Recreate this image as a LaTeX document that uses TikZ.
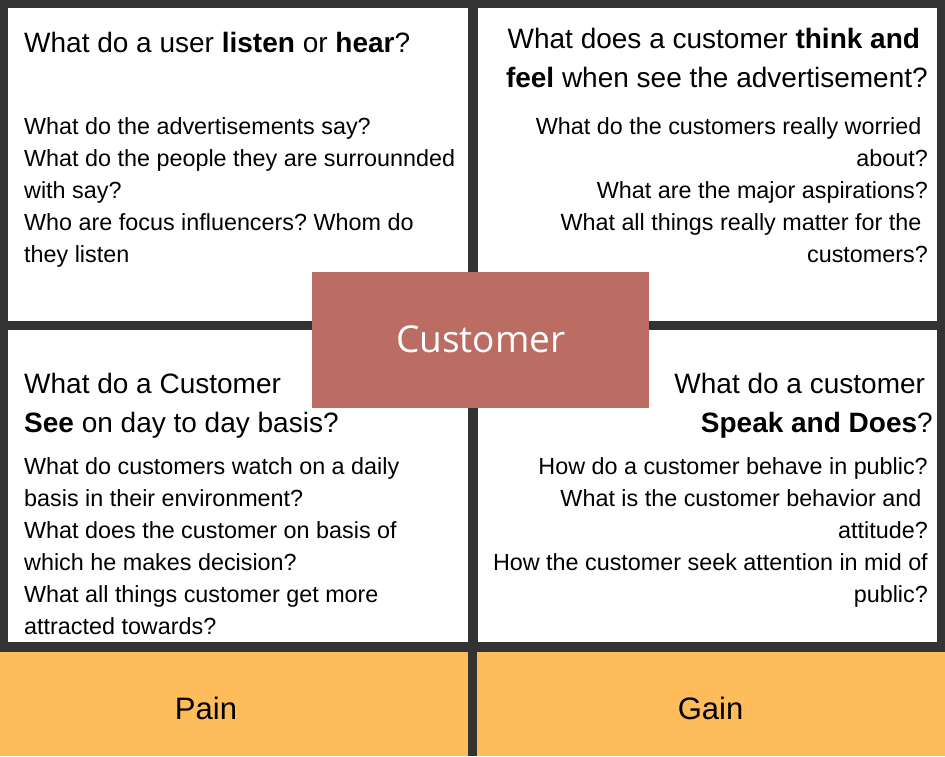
\documentclass[tikz,border=0pt]{standalone}
\usepackage{fontspec}
\setmainfont{Liberation Sans}
\newfontfamily\custfont{Open Sans}
\definecolor{framecol}{HTML}{333333}
\definecolor{custcol}{HTML}{BC6D63}
\definecolor{pgcol}{HTML}{FFBC5A}
\frenchspacing
\begin{document}
\begin{tikzpicture}[x=1pt,y=-1pt,
  panelbox/.style={fill=white,draw=none,inner sep=0pt,anchor=north west},
  orangebox/.style={fill=pgcol,draw=none,inner sep=0pt,anchor=north west},
  headtxt/.style={font=\fontsize{28}{39}\selectfont,inner sep=0pt},
  bodytxt/.style={font=\fontsize{23.35}{32}\selectfont,inner sep=0pt},
  pgtxt/.style={font=\fontsize{31}{36}\selectfont,inner sep=0pt},
]
\fill[framecol] (0,0) rectangle (945,756);
\useasboundingbox (0,0) rectangle (945,756);
% panels
\node[panelbox,minimum width=460,minimum height=313] (tl) at (8,8) {};
\node[panelbox,minimum width=459,minimum height=313] (tr) at (478,8) {};
\node[panelbox,minimum width=460,minimum height=312] (bl) at (8,330) {};
\node[panelbox,minimum width=459,minimum height=312] (br) at (478,330) {};
\node[orangebox,minimum width=468,minimum height=104] (pain) at (0,652) {};
\node[orangebox,minimum width=468,minimum height=104] (gain) at (477,652) {};
% top left
\node[headtxt,anchor=base west] (tlhead) at (24,52) {What do a user \textbf{listen} or \textbf{hear}?};
\node[bodytxt,anchor=base west] (tlbody) at (24,134) {\begin{tabular}[t]{@{}l@{}}
What do the advertisements say?\\
What do the people they are surrounnded\\
with say?\\
Who are focus influencers? Whom do\\
they listen
\end{tabular}};
% top right
\node[headtxt,anchor=base east] (trhead) at (928,48.5) {\begin{tabular}[t]{@{}r@{}}
What does a customer \textbf{think and}\kern7.8pt\\
\textbf{feel} when see the advertisement?
\end{tabular}};
\node[bodytxt,anchor=base east] (trbody) at (928,134) {\begin{tabular}[t]{@{}r@{}}
What do the customers really worried\kern6.5pt\\
about?\\
What are the major aspirations?\\
What all things really matter for the\kern6.5pt\\
customers?
\end{tabular}};
% bottom left
\node[headtxt,anchor=base west] (blhead) at (24,393.5) {\begin{tabular}[t]{@{}l@{}}
What do a Customer\\
\textbf{See} on day to day basis?
\end{tabular}};
\node[bodytxt,anchor=base west] (blbody) at (24,474) {\begin{tabular}[t]{@{}l@{}}
What do customers watch on a daily\\
basis in their environment?\\
What does the customer on basis of\\
which he makes decision?\\
What all things customer get more\\
attracted towards?
\end{tabular}};
% bottom right
\node[headtxt,anchor=base east] (brhead) at (933,393.5) {\begin{tabular}[t]{@{}r@{}}
What do a customer\kern7.8pt\\
\textbf{Speak and Does}?
\end{tabular}};
\node[bodytxt,anchor=base east] (brbody) at (928,474) {\begin{tabular}[t]{@{}r@{}}
How do a customer behave in public?\\
What is the customer behavior and\kern6.5pt\\
attitude?\\
How the customer seek attention in mid of\\
public?
\end{tabular}};
% centre
\node[fill=custcol,draw=none,inner sep=0pt,anchor=north west,minimum width=337,minimum height=136,
  text=white,font=\custfont\fontsize{37}{40}\selectfont] (cust) at (312,272) {\raisebox{3pt}{Customer}};
% pain / gain labels
\node[pgtxt] (painlbl) at (206,708) {Pain};
\node[pgtxt] (gainlbl) at (710.5,708) {Gain};
\end{tikzpicture}
\end{document}
